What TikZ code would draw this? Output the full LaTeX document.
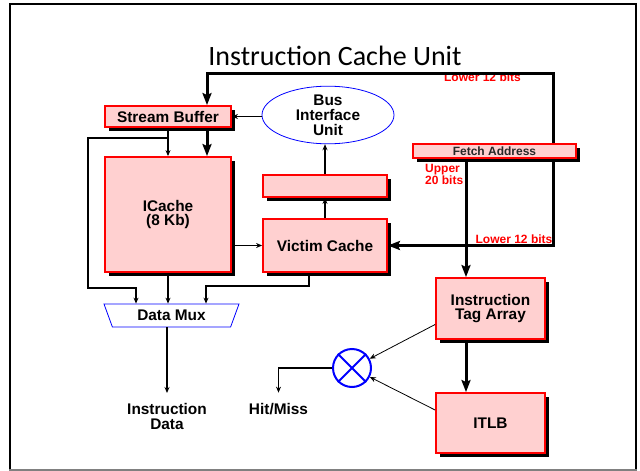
\documentclass[tikz,border=0pt]{standalone}
\usepackage{fontspec}
\setmainfont{Liberation Sans}
\newfontfamily\titlefont{Carlito}
\usetikzlibrary{arrows.meta, shapes.geometric, shadows, positioning}
\definecolor{boxpink}{RGB}{255,208,208}

\begin{document}
\begin{tikzpicture}[x=1pt, y=-1pt, >=Stealth,
  unit/.style={draw=red, line width=1.8pt, fill=boxpink, inner sep=0pt, align=center,
    font=\fontsize{15.4}{14.5}\selectfont\bfseries,
    drop shadow={shadow xshift=3.5pt, shadow yshift=-3.5pt, fill=black, opacity=1}},
  lbl/.style={font=\fontsize{12}{12}\selectfont\bfseries, text=red, inner sep=0pt, align=left},
  txt/.style={font=\fontsize{15.4}{15}\selectfont\bfseries, inner sep=0pt, align=center},
  sig/.style={line width=1.3pt, >={Stealth[length=6pt, width=5pt]}},
  bus/.style={line width=3pt, >={Stealth[length=12pt, width=9pt, inset=2pt]}}]
\useasboundingbox (0,0) rectangle (640,471);

% Marco
\draw[line width=2pt] (10,470) -- (10,4) -- (636,4) -- (636,470);
\draw[gray, line width=1.2pt] (9,470) -- (637,470);

% Bloques
\node[font=\titlefont\fontsize{28}{28}\selectfont, anchor=base] (ttl) at (335,65) {Instruction Cache Unit};
\node[unit, minimum width=126pt, minimum height=21pt] (sb) at (168,116.5) {Stream Buffer};
\node[unit, minimum width=126pt, minimum height=115pt] (ic) at (168,214.5) {ICache\\(8 Kb)};
\node[unit, minimum width=124pt, minimum height=22pt] (wb) at (325,186) {};
\node[unit, minimum width=124pt, minimum height=53pt] (vc) at (325,245.5) {Victim Cache};
\node[txt, ellipse, draw=blue, line width=0.8pt, minimum width=132pt, minimum height=53pt] (biu) at (328,115) {Bus\\Interface\\Unit};
\node[unit, minimum width=163pt, minimum height=14pt, font=\fontsize{12}{12}\selectfont\bfseries, text=black!85] (fa) at (494.5,151) {Fetch Address};
\node[unit, minimum width=109pt, minimum height=61pt, font=\fontsize{15.4}{14.5}\selectfont\bfseries] (tag) at (490.5,308.5) {Instruction\\Tag Array};
\node[unit, minimum width=109pt, minimum height=60pt] (itlb) at (490.5,423) {ITLB};
\node[txt, trapezium, shape border rotate=180, trapezium stretches body, trapezium angle=52,
  draw=blue, line width=0.8pt, minimum width=135pt, minimum height=23pt] (mux) at (171.5,315.5) {Data Mux};
\node[circle, draw=blue, line width=2pt, minimum size=38pt, inner sep=0pt] (xr) at (352,368) {};
\draw[blue, line width=2pt] (xr.north west) -- (xr.south east) (xr.north east) -- (xr.south west);
\node[txt, anchor=north] (idata) at (167,403) {Instruction\\Data};
\node[txt, anchor=base] (hm) at (278.5,414) {Hit/Miss};

% Etiquetas
\node[lbl, anchor=base] (lo1) at (482.5,81) {Lower 12 bits};
\node[lbl, anchor=base] (lo2) at (514,243) {Lower 12 bits};
\node[lbl, anchor=north west] (up) at (425,164.5) {Upper\\20 bits};

% Conexiones
\coordinate (xb) at (553,73);
\coordinate (xt) at (466,0);
\coordinate (xs) at (207,0);
\coordinate (br) at ([yshift=-10pt]sb.south);
\draw[bus, ->] (fa.north -| xb) -- (xb) -| (sb.north -| xs);
\draw[bus, ->] (fa.south -| xb) |- (vc.east);
\draw[bus, ->] (fa.south -| xt) -- (tag.north -| xt);
\draw[bus, ->] (tag.south -| xt) -- (itlb.north -| xt);
\draw[bus, ->] (sb.south -| xs) -- (ic.north -| xs);
\draw[sig, ->] (sb.south) -- (ic.north);
\draw[sig, ->] (br) -| (88,288) -| ([xshift=-35.5pt]mux.north);
\draw[sig, ->] (ic.south) -- (ic.south |- mux.north);
\draw[sig, ->] ([xshift=-16pt]vc.south) -- ++(0,13) -| ([xshift=34.5pt]mux.north);
\draw[sig, ->] (ic.east |- vc.west) -- (vc.west);
\draw[sig, ->] (vc.north) -- (wb.south);
\draw[sig, ->] (wb.north) -- (wb.north |- biu.south);
\draw[sig, ->] (sb.east -| biu.west) -- (sb.east);
\draw[sig, ->] (idata |- mux.south) -- ([yshift=10pt]idata.north);
\draw[sig, ->] (xr.west) -| ([yshift=10pt]hm.north);
\draw[->, line width=0.8pt, >={Stealth[length=6pt, width=5pt]}] ([yshift=-16pt]tag.west) -- (xr);
\draw[->, line width=0.8pt, >={Stealth[length=6pt, width=5pt]}] ([yshift=13pt]itlb.west) -- (xr);
\end{tikzpicture}
\end{document}
